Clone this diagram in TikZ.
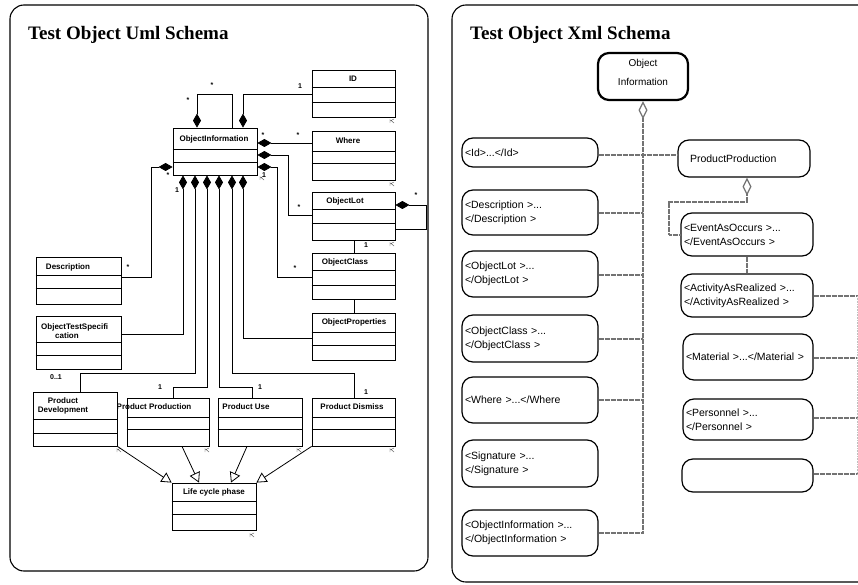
\documentclass[tikz,border=0pt]{standalone}
\usepackage{fontspec}
\setmainfont{Liberation Sans}
\newfontfamily\ttlfont{Liberation Serif}
\usetikzlibrary{arrows.meta,calc}
\tikzset{
 panel/.style={draw=black, line width=1.1pt, rounded corners=14pt},
 cls/.style={draw=black, line width=0.8pt, rectangle, inner sep=0pt},
 clstxt/.style={font=\fontsize{8}{9.5}\selectfont\bfseries, inner sep=0pt, align=center},
 mult/.style={font=\fontsize{7}{8}\selectfont\bfseries, inner sep=0pt},
 assoc/.style={draw=black, line width=0.8pt},
 compo/.style={assoc, arrows={Diamond[length=14pt,width=8pt]-}},
 gen/.style={assoc, arrows={-Triangle[open,length=10pt,width=11pt]}},
 xbox/.style={draw=black, line width=1.2pt, rounded corners=11pt, inner xsep=3pt, inner ysep=0pt, align=left, font=\fontsize{10.5}{14}\selectfont},
 xln/.style={draw=black!55, line width=1.2pt, dash pattern=on 0.8pt off 0.4pt},
 xagg/.style={xln, arrows={Diamond[open,length=18pt,width=9pt]-}},
 ttl/.style={font=\ttlfont\bfseries\fontsize{19}{22}\selectfont, anchor=base west, inner sep=0pt},
 kic/.style={draw=black!70, line width=0.4pt},
}
\newcommand\umlbox[7]{%
  \node[cls, minimum width={(#4-#2)*1pt}, minimum height={(#5-#3)*1pt}] (#1) at ({(#2+#4)/2},{(#3+#5)/2}) {};
  \draw[assoc] (#1.west |- 0,#6) -- (#1.east |- 0,#6);
  \draw[assoc] (#1.west |- 0,#7) -- (#1.east |- 0,#7);
}
\newcommand\kicon[2]{%
  \draw[kic] ({#1-2},{#2-2}) -- ({#1-2},{#2+2}) ({#1-2},{#2}) -- ({#1+2},{#2-2}) ({#1-1},{#2-0.5}) -- ({#1+2},{#2+2});
}
\begin{document}
\begin{tikzpicture}[x=1pt,y=-1pt]
\fill[white] (0,0) rectangle (858,585);
\useasboundingbox (0,0) rectangle (858,585);
\clip (0,0) rectangle (858,585);

% ---------- panels ----------
\draw[panel] (10,5) rectangle (428,571);
\draw[panel] (452,5) rectangle (890,582);
\node[ttl] (t1) at (28,40) {Test Object Uml Schema};
\node[ttl] (t2) at (470,40) {Test Object Xml Schema};

% ---------- UML classes ----------
\umlbox{id}{312}{70}{395}{117}{87}{102}
\node[clstxt] (id-t) at (353,79) {ID};
\umlbox{oi}{173}{128}{257}{175}{149}{162}
\node[clstxt] (oi-t) at (214,139) {ObjectInformation};
\umlbox{where}{312}{131}{395}{180}{151}{163}
\node[clstxt] (where-t) at (348,141) {Where};
\umlbox{olot}{312}{192}{395}{240}{209}{223}
\node[clstxt] (olot-t) at (345,201) {ObjectLot};
\umlbox{ocl}{312}{253}{395}{299}{270}{285}
\node[clstxt] (ocl-t) at (345,262) {ObjectClass};
\umlbox{oprop}{312}{313}{395}{360}{332}{345}
\node[clstxt] (oprop-t) at (354,322) {ObjectProperties};
\umlbox{desc}{36}{257}{121}{304}{275}{288}
\node[clstxt] (desc-t) at (68,267) {Description};
\umlbox{ots}{36}{316}{121}{369}{342}{355}
\node[clstxt, align=left, anchor=west] (ots-t) at (41,331) {ObjectTestSpecifi\\\hspace*{14pt}cation};
\umlbox{pdev}{33}{392}{117}{446}{419}{433}
\node[clstxt] (pdev-t) at (63,406) {Product\\Development};
\umlbox{pprod}{127}{398}{209}{446}{417}{429}
\node[clstxt] (pprod-t) at (154,407) {Product Production};
\umlbox{puse}{218}{398}{302}{446}{417}{429}
\node[clstxt] (puse-t) at (246,407) {Product Use};
\umlbox{pdis}{312}{398}{395}{446}{417}{429}
\node[clstxt] (pdis-t) at (352,407) {Product Dismiss};
\umlbox{lcp}{172}{483}{256}{530}{501}{514}
\node[clstxt] (lcp-t) at (214,492) {Life cycle phase};

% small icons
\kicon{262}{178}
\kicon{392}{121}
\kicon{392}{184}
\kicon{392}{244}
\kicon{119}{450}
\kicon{207}{450}
\kicon{299}{450}
\kicon{392}{450}
\kicon{252}{535}

% ---------- UML connectors ----------
\draw[compo] (oi.north -| 197,0) |- (232,94) -- (oi.north -| 232,0);
\draw[compo] (oi.north -| 243,0) |- (id.west |- 0,94);
\draw[compo] (oi.east |- 0,143) -- (where.west |- 0,143);
\draw[compo] (oi.east |- 0,155) -| (288,215) -- (olot.west |- 0,215);
\draw[compo] (oi.east |- 0,167) -| (277,277) -- (ocl.west |- 0,277);
\draw[compo] (oi.west |- 0,167) -| (151,277) -- (desc.east |- 0,277);
\draw[compo] (oi.south -| 183,0) |- (ots.east |- 0,334);
\draw[compo] (oi.south -| 195,0) |- (80,373) -- (pdev.north -| 80,0);
\draw[compo] (oi.south -| 207,0) |- (173,387) -- (pprod.north -| 173,0);
\draw[compo] (oi.south -| 219,0) |- (252,387) -- (puse.north -| 252,0);
\draw[compo] (oi.south -| 232,0) |- (354,373) -- (pdis.north -| 354,0);
\draw[compo] (oi.south -| 243,0) |- (oprop.west |- 0,338);
\draw[assoc] (olot.south -| 354,0) -- (ocl.north -| 354,0);
\draw[assoc] (ocl.south -| 354,0) -- (oprop.north -| 354,0);
\draw[compo] (olot.east |- 0,205) -- (426,205) |- (olot.east |- 0,229);

\draw[gen] (pdev.south east) -- (lcp.north west);
\draw[gen] (pprod.south -| 182,0) -- (lcp.north -| 199,0);
\draw[gen] (puse.south -| 247,0) -- (lcp.north -| 231,0);
\draw[gen] (pdis.south west) -- (lcp.north east);

% multiplicities
\node[mult] (m1) at (188,100) {*};
\node[mult] (m2) at (212,85) {*};
\node[mult] (m3) at (300,86) {1};
\node[mult] (m4) at (263,135) {*};
\node[mult] (m5) at (298,135) {*};
\node[mult] (m6) at (299,207) {*};
\node[mult] (m7) at (264,175) {1};
\node[mult] (m8) at (295,268) {*};
\node[mult] (m9) at (168,175) {*};
\node[mult] (m10) at (128,267) {*};
\node[mult] (m11) at (177,190) {1};
\node[mult] (m12) at (56,377) {0..1};
\node[mult] (m13) at (160,387) {1};
\node[mult] (m14) at (260,387) {1};
\node[mult] (m15) at (366,392) {1};
\node[mult] (m16) at (366,245) {1};
\node[mult] (m17) at (416,195) {*};

% ---------- XML panel ----------
\node[draw=black, line width=2.2pt, rounded corners=11pt, minimum width=90pt, minimum height=47pt, inner sep=0pt] (oinfo) at (643,76.5) {};
\node[align=center, inner sep=0pt, font=\fontsize{10}{19}\selectfont] (oinfo-t) at (643,72) {Object\\Information};

\node[xbox, text width=130pt, minimum height=29pt] (xid) at (530,152.5) {<Id>...</Id>};
\node[xbox, text width=130pt, minimum height=45pt] (xdesc) at (530,212.5) {<Description >...\\</Description >};
\node[xbox, text width=130pt, minimum height=46pt] (xlot) at (530,274) {<ObjectLot >...\\</ObjectLot >};
\node[xbox, text width=130pt, minimum height=47pt] (xcls) at (530,338.5) {<ObjectClass >...\\</ObjectClass >};
\node[xbox, text width=130pt, minimum height=46pt] (xwhere) at (530,400) {<Where >...</Where};
\node[xbox, text width=130pt, minimum height=47pt] (xsig) at (530,463.5) {<Signature >...\\</Signature >};
\node[xbox, text width=130pt, minimum height=46pt] (xoi) at (530,533) {<ObjectInformation >...\\</ObjectInformation >};

\node[xbox, text width=126pt, minimum height=37pt] (xpp) at (744,158.5) {\hspace*{9pt}ProductProduction};
\node[xbox, text width=126pt, minimum height=43pt] (xev) at (747,234.5) {<EventAsOccurs >...\\</EventAsOccurs >};
\node[xbox, text width=126pt, minimum height=43pt] (xact) at (747,295.5) {<ActivityAsRealized >...\\</ActivityAsRealized >};
\node[xbox, text width=124pt, minimum height=46pt] (xmat) at (748,357) {<Material >...</Material >};
\node[xbox, text width=124pt, minimum height=41pt] (xper) at (748,419.5) {<Personnel >...\\</Personnel >};
\node[xbox, text width=125pt, minimum height=33pt] (xemp) at (747.5,475.5) {};

% XML connectors
\draw[xagg] (oinfo.south) -- (oinfo.south |- xoi.east);
\draw[xln] (xoi.east) -- (oinfo.south |- xoi.east);
\draw[xln] (xid.east |- 0,155) -- (xpp.west |- 0,155);
\draw[xln] (xdesc.east |- 0,213) -- (oinfo.south |- 0,213);
\draw[xln] (xlot.east |- 0,275) -- (oinfo.south |- 0,275);
\draw[xln] (xcls.east |- 0,339) -- (oinfo.south |- 0,339);
\draw[xln] (xwhere.east |- 0,400) -- (oinfo.south |- 0,400);

\draw[xagg] (xpp.south -| 747,0) |- (669,202) |- (xev.west |- 0,235);
\draw[xln] (xev.south -| 747,0) -- (xact.north -| 747,0);

\coordinate (e1) at (857,296);
\coordinate (e2) at (857,358);
\coordinate (e3) at (857,418);
\coordinate (e4) at (857,474);
\draw[xln] (xact.east |- e1) -- (e1);
\draw[xln] (xmat.east |- e2) -- (e2);
\draw[xln] (xper.east |- e3) -- (e3);
\draw[xln] (xemp.east |- e4) -- (e4);
\draw[draw=black!25, line width=0.6pt, densely dotted] (e1) -- (e4);
\end{tikzpicture}
\end{document}
